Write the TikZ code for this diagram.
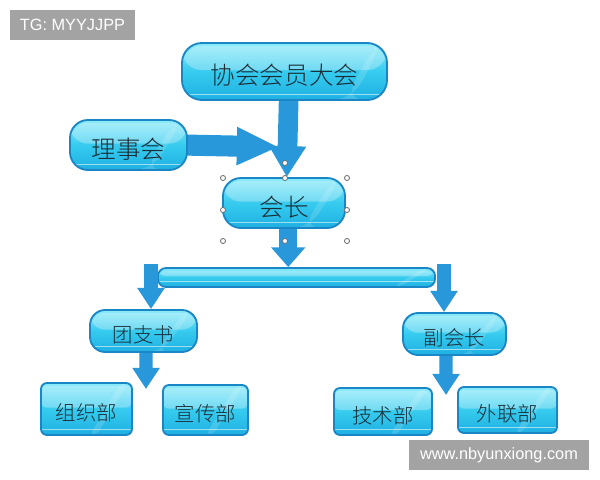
\documentclass[tikz,border=0pt]{standalone}
\usepackage{fontspec}
\newfontfamily\cjk{Noto Sans CJK SC}[UprightFont={* Light}]
\setsansfont{Liberation Sans}
\usetikzlibrary{arrows.meta,calc}
\pgfdeclarelayer{bg}
\pgfsetlayers{bg,main}
\definecolor{ctop}{HTML}{8CEBFA}
\definecolor{cmid}{HTML}{36CBEE}
\definecolor{cbot}{HTML}{1FB0E2}
\definecolor{bdr}{HTML}{1B86C6}
\definecolor{arr}{HTML}{2898DA}
\definecolor{txt}{HTML}{1A2E38}
\definecolor{wm}{HTML}{A3A3A3}
\definecolor{hdl}{HTML}{707070}
\begin{document}
\begin{tikzpicture}[x=0.025cm,y=-0.025cm,
  cbox/.style={draw=bdr, line width=1.3pt, top color=ctop, bottom color=cbot, middle color=cmid,
    inner sep=0pt, text=txt,
    path picture={
      \fill[white,opacity=0.28] ([yshift=-2pt]path picture bounding box.north west) rectangle ([yshift=1pt]path picture bounding box.east);
      \draw[white,opacity=0.55,line width=1pt] ([yshift=4pt]path picture bounding box.south west) -- ([yshift=4pt]path picture bounding box.south east);
      \fill[white,opacity=0.14] ([xshift=-30pt]path picture bounding box.south east) -- ([xshift=-8pt]path picture bounding box.north east) -- ([xshift=-3pt]path picture bounding box.north east) -- ([xshift=-25pt]path picture bounding box.south east) -- cycle;
    }},
  bigtext/.style={font=\cjk\fontsize{17.5pt}{20pt}\selectfont, text height=22pt, text depth=3pt},
  smalltext/.style={font=\cjk\fontsize{14.5pt}{17pt}\selectfont, text height=19pt, text depth=2.5pt},
  pill/.style={cbox, bigtext, rounded corners=0.5cm},
  midpill/.style={cbox, smalltext, rounded corners=0.38cm},
  dept/.style={cbox, smalltext, rounded corners=0.15cm},
  bigarrow/.style={draw=arr, line width=14pt, -{Triangle[width=25pt,length=22pt]}},
  sidearrow/.style={draw=arr, line width=15pt, -{Triangle[width=25pt,length=30pt]}},
  midarrow/.style={draw=arr, line width=13pt, -{Triangle[width=23.5pt,length=14pt]}},
  smallarrow/.style={draw=arr, line width=9.5pt, -{Triangle[width=18.5pt,length=15pt]}},
  handle/.style={draw=hdl, line width=0.6pt, fill=white},
  wmbox/.style={fill=wm, text=white, inner sep=0pt, font=\sffamily\fontsize{11.6pt}{13pt}\selectfont}
]
\useasboundingbox (0,0) rectangle (600,480);
\begin{pgfonlayer}{bg}
\fill[white] (0,0) rectangle (600,480);
\end{pgfonlayer}

% watermarks
\node[wmbox, minimum width=3.125cm, minimum height=0.75cm] (tg) at (72.5,25) {TG: MYYJJPP};
\node[wmbox, minimum width=4.5cm, minimum height=0.75cm] (site) at (499,455) {www.nbyunxiong.com};

% boxes
\node[pill, minimum width=5.125cm, minimum height=1.425cm] (hy) at (284.5,71.5) {协会会员大会};
\node[pill, minimum width=2.925cm, minimum height=1.25cm, rounded corners=0.45cm] (ls) at (128.5,145) {理事会};
\node[pill, minimum width=3.05cm, minimum height=1.25cm, rounded corners=0.45cm] (hz) at (284,203) {会长};
\node[cbox, minimum width=6.925cm, minimum height=0.475cm, rounded corners=0.2cm] (bar) at (296.5,277.5) {};
\node[midpill, minimum width=2.675cm, minimum height=1.05cm] (tz) at (143.5,331) {团支书};
\node[midpill, minimum width=2.575cm, minimum height=1.05cm] (fz) at (454.5,334) {副会长};
\node[dept, minimum width=2.275cm, minimum height=1.3cm] (zz) at (86.5,409) {组织部};
\node[dept, minimum width=2.125cm, minimum height=1.25cm] (xc) at (205.5,410) {宣传部};
\node[dept, minimum width=2.45cm, minimum height=1.175cm] (js) at (383,411.5) {技术部};
\node[dept, minimum width=2.475cm, minimum height=1.15cm] (wl) at (507.5,410) {外联部};

% free ends of connectors
\coordinate (jn) at (279,147);
\coordinate (bl) at (151,264);
\coordinate (br) at (444,264);
\coordinate (tze) at (146,389);
\coordinate (fze) at (446,395);

\begin{pgfonlayer}{bg}
\draw[bigarrow] ([xshift=3pt,yshift=2pt]hy.south) -- ([xshift=2pt]hz.north);
\draw[sidearrow] ([xshift=-4pt]ls.east) -- (jn);
\draw[midarrow] ([xshift=3pt,yshift=2pt]hz.south) -- ([xshift=3pt]hz.south |- bar.north);
\draw[smallarrow] ([xshift=1.8pt,yshift=2pt]tz.south) -- (tze);
\draw[smallarrow] ([xshift=-6pt,yshift=2pt]fz.south) -- (fze);
\end{pgfonlayer}
\draw[smallarrow] (bl) -- (bl |- tz.north);
\draw[smallarrow] (br) -- (br |- fz.north);

% selection handles
\foreach \p in {(223,178),(285,178),(347,178),(223,210),(347,210),(223,241),(285,241),(347,241),(285,163)}
  \draw[handle] \p circle[radius=1.8pt];
\end{tikzpicture}
\end{document}
